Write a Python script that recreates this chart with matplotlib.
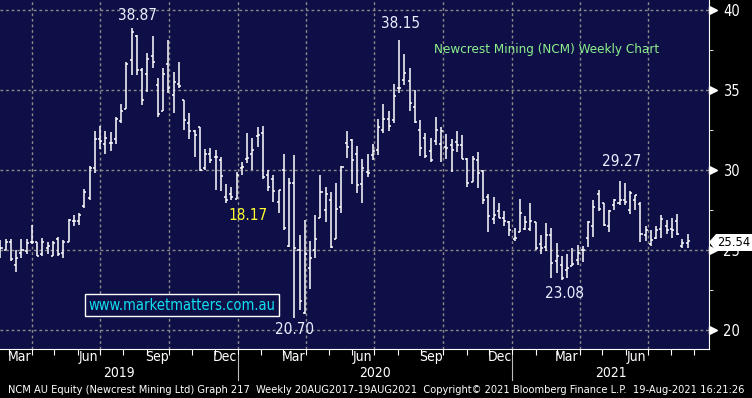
import matplotlib
matplotlib.use('Agg')
import matplotlib.pyplot as plt
import matplotlib.dates as mdates
import matplotlib.transforms as mtransforms
from matplotlib.patches import Polygon
import pandas as pd

plt.rcParams['font.family'] = ['DejaVu Sans']
plt.rcParams['font.stretch'] = 'condensed'

# weekly OHLC, NCM AU
opens = [24.9, 25.0, 25.5, 24.05, 24.8, 24.9, 25.5, 25.5, 24.7, 25.1,
         24.6, 25.65, 24.8, 25.5, 26.8, 26.8, 27.75, 28.25, 30.1, 31.9,
         31.6, 31.7, 31.9, 33.05, 33.8, 36.9, 38.4, 36.25, 36.0, 37.1,
         35.3, 33.65, 36.6, 34.7, 35.4, 34.4, 32.9, 32.4, 32.65,
         30.1, 31.0, 30.8, 30.6, 28.3, 28.5, 28.2, 30.1, 30.65, 31.0,
         32.1, 32.3, 29.7, 29.4, 28.0, 30.0, 25.2, 29.2, 25.0,
         21.05, 23.85, 25.0, 27.0, 27.5, 28.1, 25.65, 27.7, 31.7, 31.85,
         31.0, 29.1, 29.85, 30.9, 31.25, 32.5, 33.2, 33.1, 35.15,
         35.65, 35.55, 33.95, 32.5, 32.0, 31.2, 31.8, 31.6, 31.45, 31.55,
         31.75, 31.55, 30.7, 29.25, 30.6, 29.95, 28.3, 26.9, 27.45,
         27.0, 26.7, 25.65, 26.1, 26.3, 26.3, 26.7, 25.35, 25.15, 25.9,
         24.3, 24.05, 23.7, 23.95, 24.35, 25.0, 25.7, 26.5, 28.5,
         27.9, 26.5, 27.8, 27.95, 28.1, 27.5, 28.1, 27.85, 25.9, 25.35,
         25.75, 26.3, 26.5, 26.3, 26.8, 25.25, 25.4]
highs = [25.6, 25.65, 25.65, 25.0, 25.65, 25.65, 26.55, 25.5, 25.75, 25.45,
         25.55, 25.8, 25.6, 26.95, 27.2, 27.3, 28.8, 30.25, 32.45, 32.75,
         32.4, 32.35, 33.3, 34.15, 36.75, 38.87, 38.45, 36.35, 37.3, 38.35,
         35.75, 36.35, 38.1, 36.1, 36.75, 34.4, 33.55, 32.5, 32.65,
         31.3, 31.35, 31.25, 30.8, 29.1, 28.95, 29.85, 30.5, 32.3, 32.0,
         32.7, 32.75, 30.0, 29.7, 28.75, 31.0, 29.5, 30.9, 25.9,
         26.85, 25.55, 27.15, 29.7, 28.95, 28.6, 29.2, 30.25, 32.4, 31.9,
         31.5, 30.65, 31.0, 31.6, 33.2, 34.15, 33.7, 35.4, 38.15,
         37.25, 36.4, 35.0, 33.1, 32.3, 32.0, 33.3, 32.65, 32.25, 31.9,
         32.45, 32.2, 30.75, 30.85, 31.1, 30.0, 28.5, 28.3, 27.9,
         27.45, 26.8, 26.35, 28.15, 27.1, 27.95, 26.75, 25.9, 26.65, 26.35,
         25.4, 24.6, 24.7, 25.1, 25.3, 25.25, 26.8, 28.1, 28.75,
         27.95, 27.5, 28.2, 29.27, 29.2, 28.7, 28.45, 28.0, 26.5, 26.2,
         26.5, 27.15, 26.85, 27.0, 27.25, 25.65, 26.0]
lows = [24.5, 24.95, 24.3, 23.6, 24.45, 24.75, 25.35, 24.6, 24.6, 24.75,
        24.6, 24.6, 24.5, 25.5, 26.45, 26.55, 27.6, 28.1, 29.8, 31.3,
        31.0, 31.15, 31.6, 32.9, 33.8, 35.95, 35.95, 34.05, 34.85, 36.4,
        33.3, 33.65, 34.8, 33.55, 35.1, 32.5, 31.9, 30.8, 29.9,
        30.0, 30.4, 28.75, 28.7, 27.9, 28.1, 28.2, 29.7, 30.4, 30.0,
        31.45, 29.4, 28.65, 28.0, 27.3, 26.2, 25.15, 20.7, 21.2,
        21.0, 22.55, 24.45, 27.0, 26.75, 25.1, 25.65, 27.3, 30.75, 29.1,
        28.55, 27.95, 29.55, 30.6, 30.9, 32.3, 32.4, 32.95, 34.8,
        35.3, 33.7, 32.9, 30.85, 30.75, 30.5, 31.55, 30.5, 30.7, 29.85,
        31.1, 30.7, 28.95, 29.25, 28.85, 27.85, 26.1, 26.6, 27.0,
        26.5, 25.85, 25.55, 26.1, 26.2, 26.15, 25.0, 24.7, 24.9, 23.2,
        23.55, 23.08, 23.2, 23.95, 24.05, 24.2, 25.15, 25.8, 27.45,
        26.5, 26.1, 27.5, 27.8, 27.8, 27.25, 27.5, 25.45, 25.55, 25.2,
        25.65, 25.75, 25.95, 25.7, 25.9, 25.1, 25.1]
closes = [25.1, 25.5, 24.4, 24.5, 24.95, 25.4, 25.5, 24.6, 25.5, 25.2,
          25.4, 24.7, 25.5, 26.85, 26.8, 27.2, 28.6, 30.1, 31.9, 31.8,
          32.0, 31.7, 33.2, 33.7, 36.65, 38.6, 36.25, 34.4, 36.95, 36.75,
          33.5, 36.0, 35.1, 35.5, 35.25, 33.1, 32.45, 32.2, 30.0,
          31.0, 30.6, 30.8, 29.6, 28.1, 28.3, 29.7, 30.2, 30.75, 31.25,
          32.15, 29.55, 28.9, 28.7, 28.75, 26.35, 29.2, 25.1, 21.8,
          24.7, 24.5, 25.65, 28.6, 28.5, 25.15, 27.55, 30.2, 31.45, 30.6,
          29.05, 30.1, 29.8, 31.15, 32.7, 33.2, 32.75, 34.6, 35.15,
          36.05, 34.2, 33.0, 31.35, 30.85, 30.6, 32.5, 32.45, 31.35, 31.25,
          31.55, 30.7, 29.2, 30.7, 29.8, 28.1, 27.1, 27.2, 27.0,
          26.8, 26.25, 25.75, 27.3, 26.7, 26.8, 25.1, 25.1, 25.9, 24.15,
          24.6, 23.25, 23.85, 24.1, 24.8, 25.0, 26.7, 27.65, 27.55,
          26.55, 27.4, 28.1, 28.1, 28.0, 28.55, 28.4, 26.0, 26.2, 25.6,
          26.25, 26.95, 26.25, 26.2, 26.0, 25.4, 25.54]
dates = pd.date_range('2019-02-18', periods=len(opens), freq='7D')

month_labels = ['Mar', 'Jun', 'Sep', 'Dec', 'Mar', 'Jun', 'Sep', 'Dec', 'Mar', 'Jun']
month_label_dates = ['2019-03-15', '2019-06-15', '2019-09-15', '2019-12-15',
                     '2020-03-15', '2020-06-15', '2020-09-15', '2020-12-15',
                     '2021-03-15', '2021-06-15']
years = ['2019', '2020', '2021']
y_ticks = [20, 25, 30, 35, 40]
last_price = '25.54'

NAVY = '#0f0f47'
GRID = '#8a8a8a'

W, H = 752, 398
fig = plt.figure(figsize=(W / 100, H / 100), dpi=100, facecolor='black')
ax = fig.add_axes([0, (H - 349) / H, 709 / W, 349 / H], facecolor=NAVY)

x = mdates.date2num(dates)
tick = 2.7
ax.vlines(x, lows, highs, color='white', lw=1.1)
ax.hlines(opens, x - tick, x, color='white', lw=1.1)
ax.hlines(closes, x, x + tick, color='white', lw=1.1)

x0 = mdates.date2num(pd.Timestamp('2019-02-17 08:00'))
x1 = mdates.date2num(pd.Timestamp('2021-09-20 10:00'))
ax.set_xlim(x0, x1)
ax.set_ylim(18.78, 40.63)

# grid
for yv in y_ticks:
    ax.axhline(yv, color=GRID, lw=1.0, ls=(0, (2, 2)), zorder=0)
for q in pd.date_range('2019-04-01', '2021-07-01', freq='QS'):
    ax.axvline(mdates.date2num(q), color=GRID, lw=1.0, ls=(0, (2, 2)), zorder=0)

# spines
for s in ['top', 'left']:
    ax.spines[s].set_visible(False)
ax.spines['right'].set_color('white')
ax.spines['bottom'].set_color('white')

# y axis on right
ax.yaxis.tick_right()
ax.set_yticks(y_ticks)
ax.set_yticklabels([str(v) for v in y_ticks])
ax.set_yticks([22.5, 27.5, 32.5, 37.5], minor=True)
ax.tick_params(axis='y', which='major', length=0, pad=10, labelcolor='white', labelsize=10.5)
ax.tick_params(axis='y', which='minor', length=3, color='white', direction='out')
tr = mtransforms.blended_transform_factory(ax.transAxes, ax.transData)
ax.plot([1 + 4 / 709] * len(y_ticks), y_ticks, ls='none', marker='>', ms=5.5,
        color='white', transform=tr, clip_on=False)

# x axis: month ticks, custom labels
ax.xaxis.set_major_locator(mdates.MonthLocator())
ax.tick_params(axis='x', which='major', length=4, color='white', labelbottom=False)
trx = mtransforms.blended_transform_factory(ax.transData, ax.transAxes)
for lab, d in zip(month_labels, month_label_dates):
    ax.text(mdates.date2num(pd.Timestamp(d)), -0.024, lab, transform=trx,
            ha='center', va='center', color='white', fontsize=10, clip_on=False)
bounds = [x0, mdates.date2num(pd.Timestamp('2020-01-01')),
          mdates.date2num(pd.Timestamp('2021-01-01')), x1]
for i, yr in enumerate(years):
    ax.text((bounds[i] + bounds[i + 1]) / 2, -0.069, yr, transform=trx,
            ha='center', va='center', color='white', fontsize=10, clip_on=False)
for b in bounds[1:3]:
    ax.plot([b, b], [-0.018, -0.09], color='#bbbbbb', lw=0.8, transform=trx, clip_on=False)

# annotations (pixel positions)
def fx(px):
    return px / W

def fy(py):
    return 1 - py / H

lbl = '#e8f0ff'
fig.text(fx(137), fy(15), '38.87', color=lbl, fontsize=11, ha='center', va='center')
fig.text(fx(401), fy(24), '38.15', color=lbl, fontsize=11, ha='center', va='center')
fig.text(fx(248), fy(216), '18.17', color='#ffff30', fontsize=11, ha='center', va='center')
fig.text(fx(295), fy(329), '20.70', color=lbl, fontsize=11, ha='center', va='center')
fig.text(fx(564), fy(293), '23.08', color=lbl, fontsize=11, ha='center', va='center')
fig.text(fx(622), fy(162), '29.27', color=lbl, fontsize=11, ha='center', va='center')
fig.text(fx(547), fy(50), 'Newcrest Mining (NCM) Weekly Chart', color='#8cf08c',
         fontsize=9.6, ha='center', va='center')
fig.text(fx(182), fy(305), 'www.marketmatters.com.au', color='#10e0f0', fontsize=10.5,
         ha='center', va='center',
         bbox=dict(boxstyle='square,pad=0.25', fc=NAVY, ec='white', lw=1))

# last price tag, drawn in figure pixels
tag = Polygon([(fx(709), fy(242)), (fx(716), fy(234)), (fx(752), fy(234)),
               (fx(752), fy(251)), (fx(716), fy(251))], closed=True,
              transform=fig.transFigure, fc='white', ec='none', zorder=5)
fig.patches.append(tag)
fig.text(fx(734), fy(242.5), last_price, color='black', fontsize=9.3,
         ha='center', va='center', zorder=6)

fig.text(fx(376), fy(390),
         'NCM AU Equity (Newcrest Mining Ltd) Graph 217  Weekly 20AUG2017-19AUG2021  '
         'Copyright\u00a9 2021 Bloomberg Finance L.P.  19-Aug-2021 16:21:26',
         color='white', fontsize=7.9, ha='center', va='center')

fig.savefig('out.png', dpi=100, facecolor='black')
